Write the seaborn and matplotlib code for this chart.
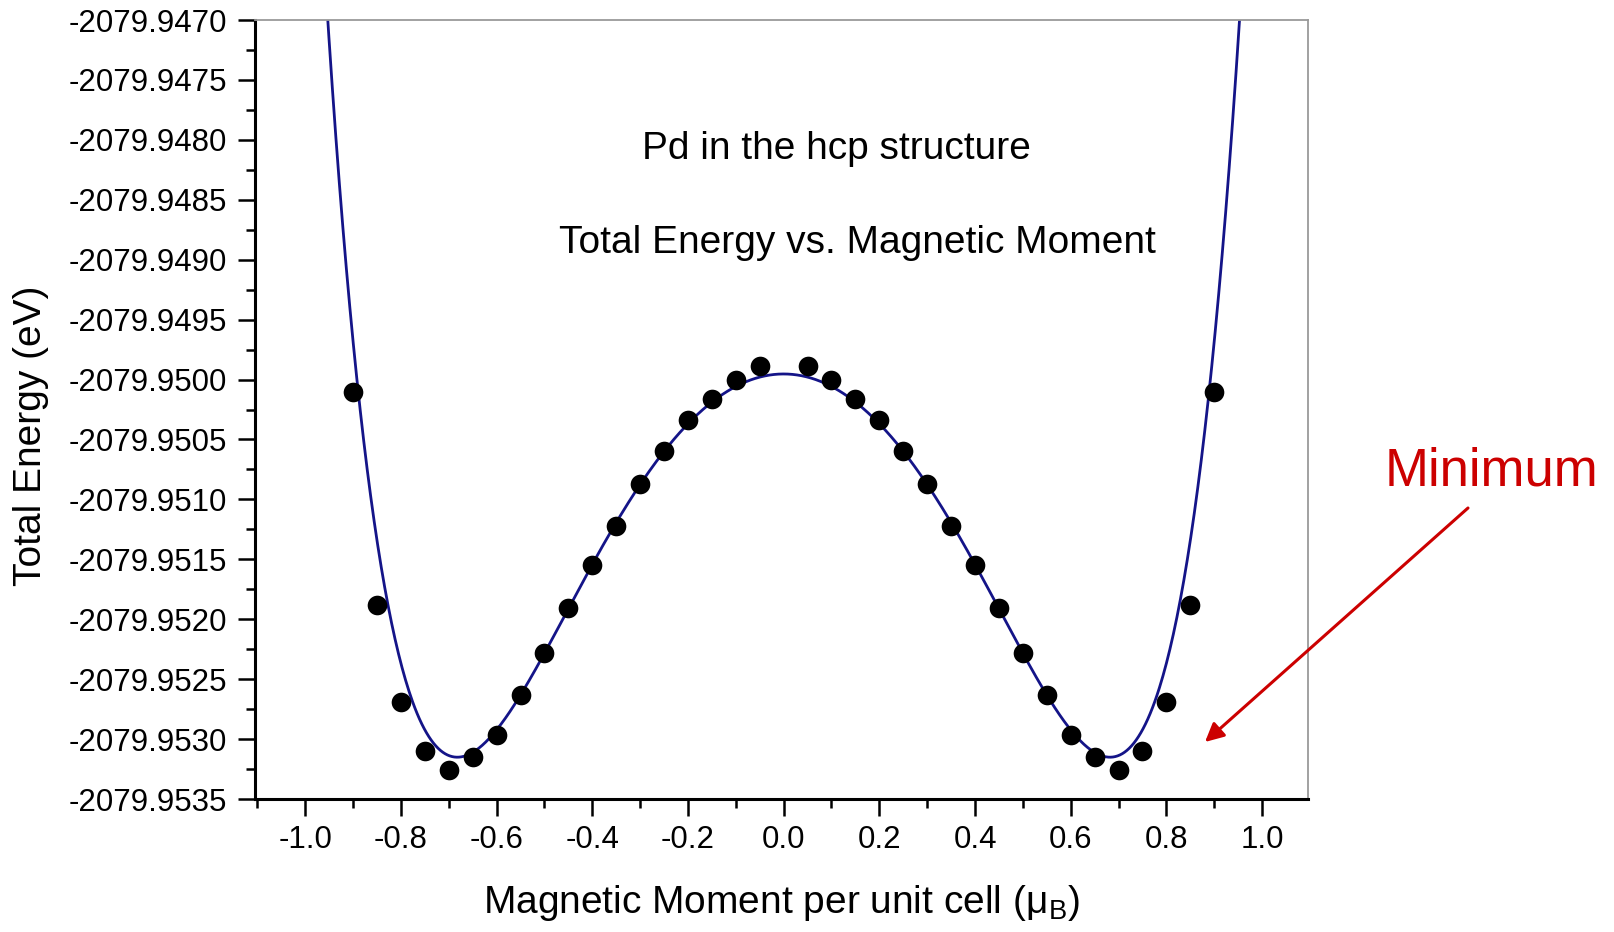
import numpy as np
import matplotlib
matplotlib.use("Agg")
import matplotlib.pyplot as plt
import seaborn as sns
from matplotlib.ticker import MultipleLocator, FuncFormatter

# Calculated total energies for Pd (hcp) at fixed magnetic moments
moment = [-0.90, -0.85, -0.80, -0.75, -0.70, -0.65, -0.60, -0.55, -0.50, -0.45,
          -0.40, -0.35, -0.30, -0.25, -0.20, -0.15, -0.10, -0.05,
          0.05, 0.10, 0.15, 0.20, 0.25, 0.30, 0.35, 0.40, 0.45,
          0.50, 0.55, 0.60, 0.65, 0.70, 0.75, 0.80, 0.85, 0.90]
energy = [-2079.95010, -2079.95188, -2079.95269, -2079.95310, -2079.95326,
          -2079.95315, -2079.95297, -2079.95263, -2079.95228, -2079.95191,
          -2079.95155, -2079.95122, -2079.95087, -2079.95060, -2079.95034,
          -2079.95016, -2079.95000, -2079.94989,
          -2079.94989, -2079.95000, -2079.95016, -2079.95034, -2079.95060,
          -2079.95087, -2079.95122, -2079.95155, -2079.95191, -2079.95228,
          -2079.95263, -2079.95297, -2079.95315, -2079.95326, -2079.95310,
          -2079.95269, -2079.95188, -2079.95010]

# Even polynomial fit E(m) = E0 + 1e-4 * P(m^2); P coefficients, highest power first
fit_e0 = -2079.95
fit_coef = [19.3345, -1.13408, 140.426, 9.89911, -104.523, 0.464398]

sns.set_theme(style="ticks")
plt.rcParams["font.family"] = ["Liberation Sans", "DejaVu Sans"]
plt.rcParams["mathtext.fontset"] = "custom"
plt.rcParams["mathtext.rm"] = "Liberation Sans"
plt.rcParams["mathtext.it"] = "Liberation Sans:italic"

fig = plt.figure(figsize=(16.15, 9.32), dpi=100)
fig.patch.set_facecolor("white")
ax = fig.add_axes([255 / 1615, 1 - 799 / 932, 1053 / 1615, 779 / 932])
ax.set_facecolor("white")

# fitted curve
xs = np.linspace(-0.97, 0.97, 800)
ys = fit_e0 + np.polyval(fit_coef, xs ** 2) * 1e-4
sns.lineplot(x=xs, y=ys, color="#141488", linewidth=2.0, ax=ax, sort=False)

# calculated points
sns.scatterplot(x=moment, y=energy, color="black", s=200, linewidth=0, ax=ax, zorder=3)

ax.set_xlim(-1.105, 1.096)
ax.set_ylim(-2079.9535, -2079.9470)
ax.xaxis.set_major_locator(MultipleLocator(0.2))
ax.xaxis.set_minor_locator(MultipleLocator(0.1))
ax.yaxis.set_major_locator(MultipleLocator(0.0005))
ax.yaxis.set_minor_locator(MultipleLocator(0.00025))
ax.xaxis.set_major_formatter(FuncFormatter(lambda v, p: f"{v:.1f}"))
ax.yaxis.set_major_formatter(FuncFormatter(lambda v, p: f"{v:.4f}"))

for side in ("left", "bottom"):
    ax.spines[side].set_color("black")
    ax.spines[side].set_linewidth(2.2)
for side in ("top", "right"):
    ax.spines[side].set_color("#9a9a9a")
    ax.spines[side].set_linewidth(1.3)

ax.tick_params(which="major", length=12, width=1.8, direction="out",
               color="black", labelsize=22.5, labelcolor="black")
ax.tick_params(which="minor", length=6.5, width=1.8, direction="out", color="black")
ax.tick_params(axis="y", which="major", pad=8)
ax.tick_params(axis="x", which="major", pad=6.5)

ax.set_xlabel(r"Magnetic Moment per unit cell ($\mathregular{\mu_B}$)", fontsize=28,
              color="black", va="center")
ax.xaxis.set_label_coords(0.5, -0.133)
ax.set_ylabel("Total Energy (eV)", fontsize=28, color="black", va="center")
ax.yaxis.set_label_coords(-0.2127, 0.466)

ax.text(836 / 1615, 1 - 149 / 932, "Pd in the hcp structure", transform=fig.transFigure,
        ha="center", va="center", fontsize=28, color="black")
ax.text(857 / 1615, 1 - 243 / 932, "Total Energy vs. Magnetic Moment", transform=fig.transFigure,
        ha="center", va="center", fontsize=28, color="black")

fig.text(1492 / 1615, 1 - 471 / 932, "Minimum", ha="center", va="center",
         fontsize=38, color="#cc0000")
ax.annotate("", xy=(1205 / 1615, 1 - 742 / 932), xytext=(1468 / 1615, 1 - 508 / 932),
            xycoords="figure fraction", textcoords="figure fraction",
            arrowprops=dict(arrowstyle="-|>", color="#cc0000", lw=2.2, mutation_scale=28,
                            shrinkA=0, shrinkB=0),
            annotation_clip=False)

fig.savefig("out.png", dpi=100, facecolor="white")
